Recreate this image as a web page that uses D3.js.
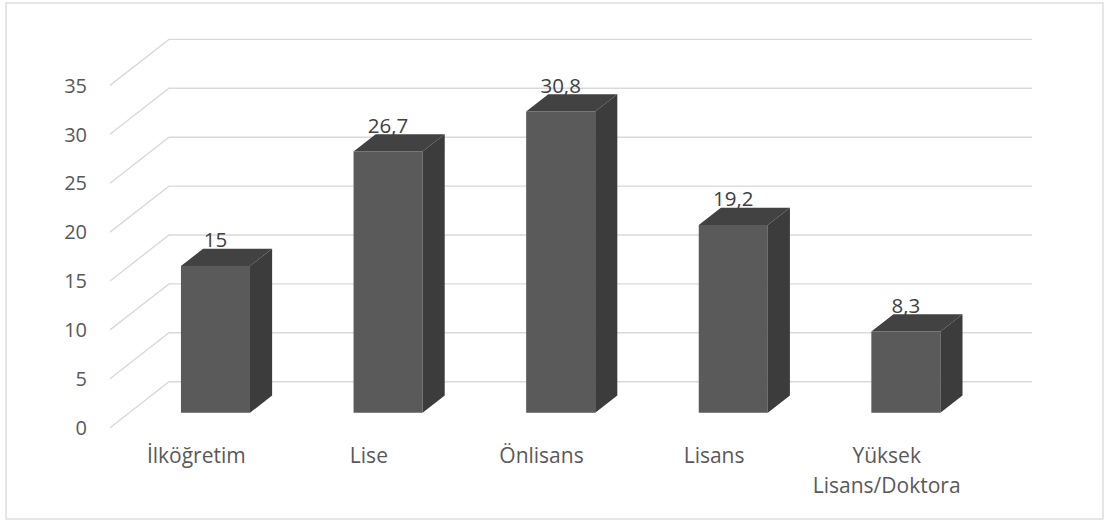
<!DOCTYPE html>
<html>
<head>
<meta charset="utf-8">
<script src="https://cdn.jsdelivr.net/npm/d3@7"></script>
<style>
  html, body { margin: 0; padding: 0; background: #ffffff; }
  svg { display: block; }
  text { font-family: "Open Sans", "Noto Sans", sans-serif; }
</style>
</head>
<body>
<svg id="chart" width="1111" height="523"></svg>
<script>
// Education level distribution (%)
const categories = ["İlköğretim", "Lise", "Önlisans", "Lisans", "Yüksek\nLisans/Doktora"];
const values = [15, 26.7, 30.8, 19.2, 8.3];
const valueLabels = ["15", "26,7", "30,8", "19,2", "8,3"];
const yTicks = [0, 5, 10, 15, 20, 25, 30, 35];

const svg = d3.select("#chart");

// 3D frame: front-left floor corner and the offset to the back wall
const origin = { x: 110, y: 427.7 };
const depth = { dx: 59, dy: -46 };
const barDepth = [0.325, 0.70];

const x = d3.scaleBand().domain(categories).range([0, 863]).paddingInner(0).paddingOuter(0);
const y = d3.scaleLinear().domain([0, 35]).range([0, 342.3]);

// project (category offset, value, depth fraction) to screen
function proj(u, v, d) {
  return [origin.x + u + d * depth.dx, origin.y - y(v) + d * depth.dy];
}
const poly = pts => "M" + pts.map(p => p.join(",")).join("L") + "Z";

// outer border
svg.append("rect")
  .attr("x", 6).attr("y", 3).attr("width", 1097).attr("height", 516)
  .attr("fill", "#ffffff").attr("stroke", "#d9d9d9").attr("stroke-width", 1.3);

// gridlines: side wall diagonal + back wall horizontal
const grid = svg.append("g").attr("stroke", "#d9d9d9").attr("stroke-width", 1.4).attr("fill", "none");
yTicks.forEach(t => {
  const a = proj(0, t, 0), b = proj(0, t, 1), c = proj(x.range()[1], t, 1);
  grid.append("path").attr("d", `M${a}L${b}L${c}`);
});

// y-axis tick labels
svg.append("g").selectAll("text").data(yTicks).join("text")
  .attr("x", 87)
  .attr("y", d => proj(0, d, 0)[1])
  .attr("dy", "0.36em")
  .attr("text-anchor", "end")
  .attr("font-size", 20)
  .attr("fill", "#595959")
  .text(d => d);

// bars
const bars = svg.append("g");
categories.forEach((c, i) => {
  const v = values[i];
  const bw = x.bandwidth();
  const u0 = x(c) + bw * 0.3, u1 = x(c) + bw * 0.7;
  const [d0, d1] = barDepth;
  const g = bars.append("g");
  g.append("path").attr("fill", "#5a5a5a")
    .attr("d", poly([proj(u0, 0, d0), proj(u1, 0, d0), proj(u1, v, d0), proj(u0, v, d0)]));
  g.append("path").attr("fill", "#424242")
    .attr("d", poly([proj(u0, v, d0), proj(u1, v, d0), proj(u1, v, d1), proj(u0, v, d1)]));
  g.append("path").attr("fill", "#3c3c3c")
    .attr("d", poly([proj(u1, 0, d0), proj(u1, 0, d1), proj(u1, v, d1), proj(u1, v, d0)]));

  // value label above the bar top
  const mid = proj((u0 + u1) / 2, v, d0)[0];
  const topBack = proj(u0, v, d1)[1];
  svg.append("text")
    .attr("x", mid).attr("y", topBack - 1.5)
    .attr("text-anchor", "middle")
    .attr("font-size", 20.5)
    .attr("fill", "#404040")
    .text(valueLabels[i]);
});

// category labels
const catG = svg.append("g");
categories.forEach(c => {
  const cx = proj(x(c) + x.bandwidth() / 2, 0, 0)[0];
  const t = catG.append("text")
    .attr("text-anchor", "middle")
    .attr("font-size", 21)
    .attr("fill", "#595959");
  c.split("\n").forEach((line, k) => {
    t.append("tspan").attr("x", cx).attr("y", 463 + k * 30).text(line);
  });
});
</script>
</body>
</html>
